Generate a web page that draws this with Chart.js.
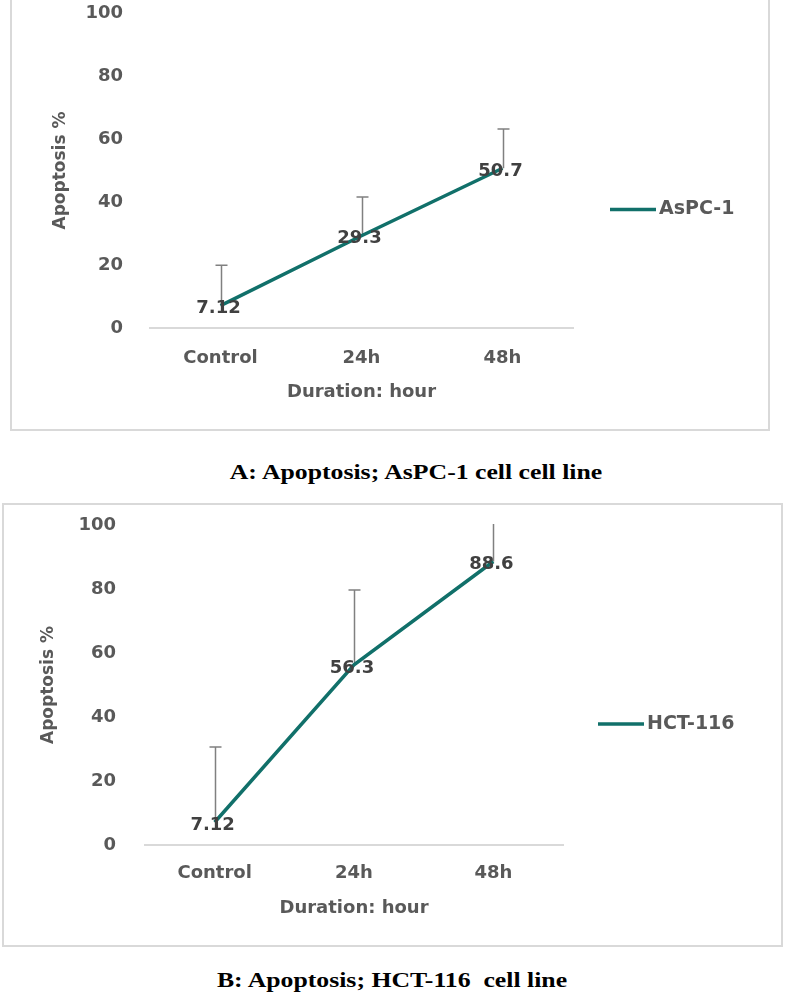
<!DOCTYPE html>
<html>
<head>
<meta charset="utf-8">
<script src="https://cdn.jsdelivr.net/npm/chart.js@4.4.1/dist/chart.umd.min.js"></script>
<style>
    body { margin: 0; background: #fff; width: 785px; height: 1001px; position: relative; overflow: hidden; }
    .frame { position: absolute; border: 2px solid #d9d9d9; box-sizing: border-box; }
    canvas { position: absolute; left: 0; }
    .caption {
        position: absolute; width: 500px; text-align: center; white-space: pre;
        font-family: "Liberation Serif", "Times New Roman", serif; font-weight: bold;
        font-size: 22px; line-height: 26px; color: #000;
        transform: scaleX(1.17); transform-origin: center;
    }
</style>
</head>
<body>
<div class="frame" style="left:10px; top:-4px; width:760px; height:435px;"></div>
<div class="frame" style="left:2px; top:503px; width:781px; height:444px;"></div>
<canvas id="asPC1Chart" width="785" height="450" style="top:0;"></canvas>
<canvas id="hct116Chart" width="785" height="450" style="top:500px;"></canvas>
<div class="caption" style="left:166px; top:459px;">A: Apoptosis; AsPC-1 cell cell line</div>
<div class="caption" style="left:142px; top:967px;">B: Apoptosis; HCT-116  cell line</div>

<script>
// data
const categories = ['Control', '24h', '48h'];
const yTickLabels = [0, 20, 40, 60, 80, 100];

const asPC1Values = [7.12, 29.3, 50.7];
const asPC1Errors = [12.8, 12.3, 12.5];

const hct116Values = [7.12, 56.3, 88.6];
const hct116Errors = [23.5, 23.4, 23.5];

const lineColor = '#11706a';
const textColor = '#595959';

// error bars (upper only), value labels and the little legend on the right
const extrasPlugin = {
    id: 'extras',
    beforeDatasetsDraw(chart, args, opts) {
        const { ctx, chartArea } = chart;
        const xs = chart.scales.x, ys = chart.scales.y;
        ctx.save();
        ctx.beginPath();
        ctx.rect(chartArea.left, chartArea.top - 1, chartArea.width, chartArea.height + 1);
        ctx.clip();
        ctx.strokeStyle = '#808080';
        ctx.lineWidth = 1.5;
        chart.data.datasets[0].data.forEach((v, i) => {
            const px = Math.round(xs.getPixelForValue(i)) + 0.5;
            const py = ys.getPixelForValue(v);
            const ty = ys.getPixelForValue(v + opts.errors[i]);
            ctx.beginPath();
            ctx.moveTo(px, py);
            ctx.lineTo(px, ty);
            ctx.moveTo(px - 6, ty);
            ctx.lineTo(px + 6, ty);
            ctx.stroke();
        });
        ctx.restore();
    },
    afterDatasetsDraw(chart, args, opts) {
        const { ctx, chartArea } = chart;
        const xs = chart.scales.x, ys = chart.scales.y;
        const ds = chart.data.datasets[0];
        ctx.save();
        ctx.font = 'bold 18px "DejaVu Sans"';
        ctx.fillStyle = '#404040';
        ctx.textAlign = 'center';
        ctx.textBaseline = 'middle';
        ds.data.forEach((v, i) => {
            ctx.fillText(String(v), xs.getPixelForValue(i) - 2, ys.getPixelForValue(v) + 3);
        });

        // legend
        const lx = chartArea.right + opts.legendGap;
        const ly = (chartArea.top + chartArea.bottom) / 2 + 39;
        ctx.strokeStyle = ds.borderColor;
        ctx.lineWidth = 3.5;
        ctx.beginPath();
        ctx.moveTo(lx, ly);
        ctx.lineTo(lx + 46, ly);
        ctx.stroke();
        ctx.font = 'bold 19px "DejaVu Sans"';
        ctx.fillStyle = textColor;
        ctx.textAlign = 'left';
        ctx.fillText(ds.label, lx + 49, ly);
        ctx.restore();
    }
};

function buildChart(canvasId, label, values, errors, s) {
    const ctx = document.getElementById(canvasId).getContext('2d');
    return new Chart(ctx, {
        type: 'line',
        data: {
            labels: categories,
            datasets: [{
                label: label,
                data: values,
                borderColor: lineColor,
                borderWidth: 3.5,
                pointRadius: 0,
                fill: false,
                tension: 0
            }]
        },
        options: {
            responsive: false,
            animation: false,
            layout: {
                padding: { top: s.top, left: 0, right: s.right, bottom: s.bottom }
            },
            plugins: {
                legend: { display: false },
                tooltip: { enabled: false },
                extras: { errors: errors, legendGap: s.legendGap }
            },
            scales: {
                x: {
                    offset: true,
                    grid: { display: false, drawTicks: false },
                    border: { display: true, color: '#d9d9d9', width: 2 },
                    ticks: {
                        color: textColor, padding: s.xTickPad, maxRotation: 0,
                        font: { family: 'DejaVu Sans', size: 18, weight: 'bold' }
                    },
                    title: {
                        display: true, text: 'Duration: hour', color: textColor,
                        padding: { top: 0, bottom: 0 },
                        font: { family: 'DejaVu Sans', size: 18, weight: 'bold' }
                    },
                    afterFit(scale) { scale.height = s.xHeight; }
                },
                y: {
                    min: yTickLabels[0],
                    max: yTickLabels[yTickLabels.length - 1],
                    grid: { display: false, drawTicks: false },
                    border: { display: false },
                    ticks: {
                        stepSize: yTickLabels[1] - yTickLabels[0],
                        color: textColor, padding: s.yTickPad,
                        font: { family: 'DejaVu Sans', size: 18, weight: 'bold' }
                    },
                    title: {
                        display: true, text: 'Apoptosis %', color: textColor,
                        padding: { top: s.yTitlePad, bottom: 0 },
                        font: { family: 'DejaVu Sans', size: 17, weight: 'bold' }
                    },
                    afterFit(scale) {
                        scale.width = s.yWidth;
                        // tick padding would otherwise push the plot top down
                        scale.paddingTop = 0;
                        scale.paddingBottom = 0;
                    }
                }
            }
        },
        plugins: [extrasPlugin]
    });
}

buildChart('asPC1Chart', 'AsPC-1', asPC1Values, asPC1Errors, {
    top: 13, right: 212, bottom: 47, xHeight: 75, yWidth: 150,
    xTickPad: 20, yTickPad: 27, yTitlePad: 50, legendGap: 37
});

buildChart('hct116Chart', 'HCT-116', hct116Values, hct116Errors, {
    top: 25, right: 222, bottom: 31, xHeight: 74, yWidth: 145,
    xTickPad: 18, yTickPad: 29, yTitlePad: 38, legendGap: 35
});
</script>
</body>
</html>
